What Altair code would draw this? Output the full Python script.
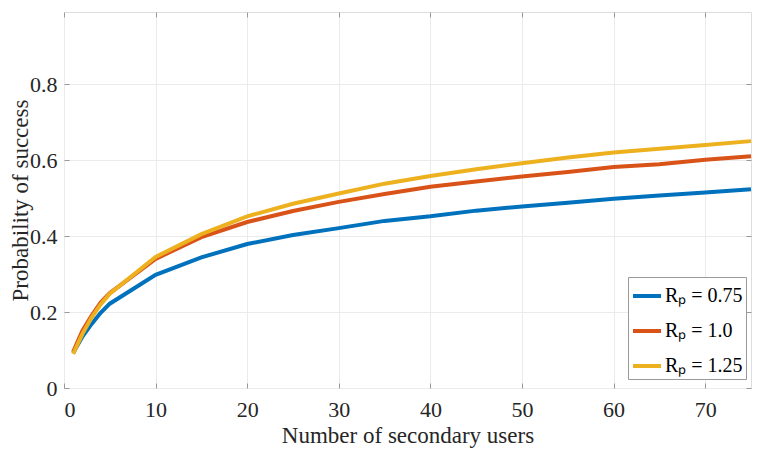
import altair as alt
import pandas as pd

users = [1, 2, 3, 4, 5, 10, 15, 20, 25, 30, 35, 40, 45, 50, 55, 60, 65, 70, 75]
rp_075 = [0.092, 0.135, 0.168, 0.198, 0.222, 0.298, 0.344, 0.379, 0.403, 0.421,
          0.440, 0.452, 0.467, 0.478, 0.488, 0.498, 0.507, 0.515, 0.523]
rp_100 = [0.095, 0.150, 0.190, 0.225, 0.250, 0.340, 0.397, 0.437, 0.466, 0.490,
          0.511, 0.530, 0.544, 0.557, 0.569, 0.582, 0.589, 0.601, 0.610]
rp_125 = [0.090, 0.142, 0.185, 0.220, 0.248, 0.345, 0.405, 0.452, 0.485, 0.512,
          0.538, 0.558, 0.576, 0.592, 0.607, 0.620, 0.630, 0.640, 0.650]
series_names = ["Rₚ = 0.75", "Rₚ = 1.0", "Rₚ = 1.25"]
series_colors = ["#0072BD", "#D95319", "#EDB120"]
x_ticks = [0, 10, 20, 30, 40, 50, 60, 70]
y_ticks = [0, 0.2, 0.4, 0.6, 0.8]

rows = []
for name, vals in zip(series_names, [rp_075, rp_100, rp_125]):
    for u, v in zip(users, vals):
        rows.append({"users": u, "p": v, "series": name})
df = pd.DataFrame(rows)

FONT = "Liberation Serif, Times New Roman, serif"
GRAY = "#999999"
x_scale = alt.Scale(domain=[0, 75], nice=False, zero=False)
y_scale = alt.Scale(domain=[0, 0.99], nice=False)

common_axis = dict(
    offset=-5, tickSize=5, domain=False, tickColor=GRAY, tickWidth=1,
    labelFont=FONT, labelFontSize=22, labelColor="#262626",
    titleFont=FONT, titleFontSize=23, titleColor="#262626", titleFontWeight="normal",
    gridColor="#ebebeb", gridWidth=1,
)

lines = alt.Chart(df).mark_line(strokeWidth=4).encode(
    x=alt.X("users:Q", scale=x_scale,
            axis=alt.Axis(orient="bottom", title="Number of secondary users",
                          values=x_ticks, format="d", labelPadding=11,
                          titlePadding=4, grid=True, **common_axis)),
    y=alt.Y("p:Q", scale=y_scale,
            axis=alt.Axis(orient="left", title="Probability of success",
                          values=y_ticks, format=".1~f", labelPadding=7,
                          titlePadding=-3, grid=True, **common_axis)),
    color=alt.Color("series:N",
                    scale=alt.Scale(domain=series_names, range=series_colors),
                    legend=alt.Legend(title=None, orient="none", legendX=564, legendY=265,
                                      symbolType="stroke", symbolSize=784,
                                      symbolStrokeWidth=4, labelFont=FONT,
                                      labelFontSize=20, labelColor="#000000",
                                      labelOffset=2, padding=3, rowPadding=9,
                                      strokeColor=GRAY, fillColor="white")),
)

ticks_layer = alt.Chart(df).mark_line(opacity=0).encode(
    x=alt.X("users:Q", scale=x_scale,
            axis=alt.Axis(orient="top", title="", values=x_ticks, labels=False,
                          grid=False, **common_axis)),
    y=alt.Y("p:Q", scale=y_scale,
            axis=alt.Axis(orient="right", title="", values=y_ticks, labels=False,
                          grid=False, **common_axis)),
)

chart = alt.layer(lines, ticks_layer).resolve_axis(
    x="independent", y="independent"
).properties(
    width=687, height=376, autosize="none",
    padding={"left": 56, "top": 4, "right": 2, "bottom": 64},
).configure_view(stroke=GRAY, strokeWidth=1).configure(background="white")

chart.save("out.html", embed_options={"renderer": "svg", "actions": False})
